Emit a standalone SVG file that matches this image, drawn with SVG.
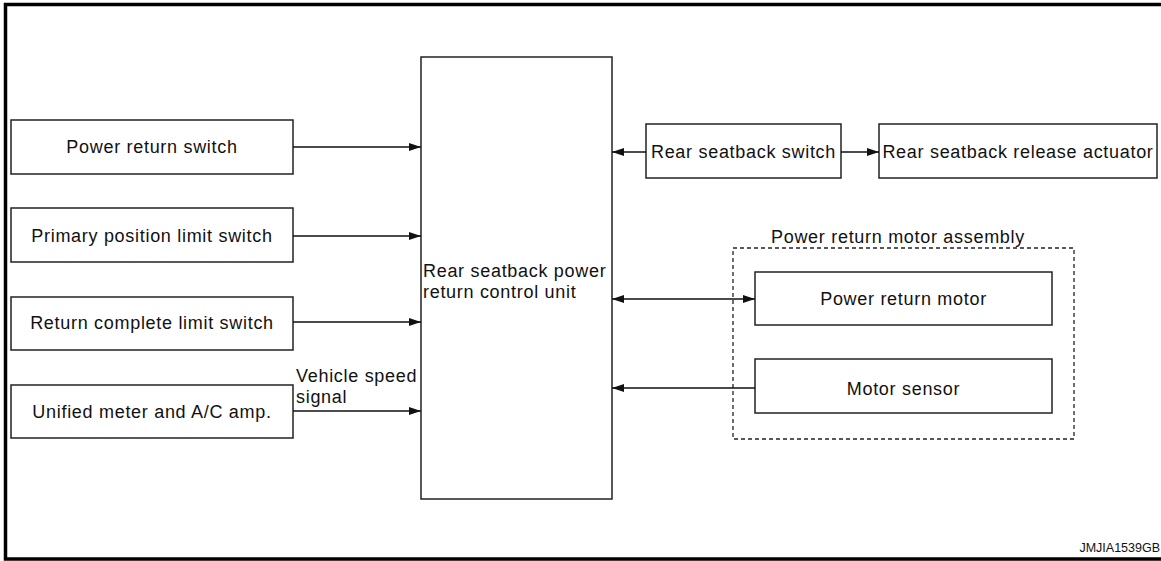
<svg xmlns="http://www.w3.org/2000/svg" width="1161" height="561" viewBox="0 0 1161 561">
<style>
  .box { fill: #fff; stroke: #222; stroke-width: 1.5; }
  .t { font-family: "Liberation Sans", Arial, sans-serif; font-size: 18px; letter-spacing: 0.7px; fill: #111; }
  .c { text-anchor: middle; }
  .ln { stroke: #111; stroke-width: 1.5; fill: none; }
  .frame { stroke: #000; stroke-width: 3.5; fill: none; }
</style>
<defs>
  <marker id="ah" viewBox="0 0 12 8" refX="12" refY="4" markerWidth="12" markerHeight="8" markerUnits="userSpaceOnUse" orient="auto-start-reverse">
    <path d="M0,0 L12,4 L0,8 z" fill="#111"/>
  </marker>
</defs>
<rect width="1161" height="561" fill="#fff"/>
<g id="frame">
  <polyline class="frame" points="1161,4.5 5.5,4.5 5.5,559 1161,559"/>
</g>
<g id="n-power-return-switch">
  <rect class="box" x="11" y="120" width="282" height="54"/>
  <text class="t c" x="152" y="153">Power return switch</text>
</g>
<g id="n-primary-limit">
  <rect class="box" x="11" y="208" width="282" height="54"/>
  <text class="t c" x="152" y="242">Primary position limit switch</text>
</g>
<g id="n-return-complete">
  <rect class="box" x="11" y="297" width="282" height="53"/>
  <text class="t c" x="152" y="329">Return complete limit switch</text>
</g>
<g id="n-unified-meter">
  <rect class="box" x="11" y="385" width="282" height="53"/>
  <text class="t c" x="152" y="418">Unified meter and A/C amp.</text>
</g>
<g id="n-control-unit">
  <rect class="box" x="421" y="57" width="191" height="442"/>
  <text class="t" x="423" y="277">Rear seatback power</text>
  <text class="t" x="423" y="298">return control unit</text>
</g>
<g id="n-rear-seatback-switch">
  <rect class="box" x="646" y="124" width="195" height="54"/>
  <text class="t c" x="743.5" y="158">Rear seatback switch</text>
</g>
<g id="n-release-actuator">
  <rect class="box" x="879" y="124" width="278" height="54"/>
  <text class="t c" x="1018" y="158">Rear seatback release actuator</text>
</g>
<g id="n-motor-assembly">
  <rect x="733" y="248" width="341" height="191" fill="none" stroke="#222" stroke-width="1.3" stroke-dasharray="4,3"/>
  <text class="t c" x="898" y="243">Power return motor assembly</text>
</g>
<g id="n-power-return-motor">
  <rect class="box" x="755" y="272" width="297" height="53"/>
  <text class="t c" x="903.5" y="305">Power return motor</text>
</g>
<g id="n-motor-sensor">
  <rect class="box" x="755" y="359" width="297" height="54"/>
  <text class="t c" x="903.5" y="395">Motor sensor</text>
</g>
<g id="connectors">
  <line class="ln" x1="293" y1="147" x2="421" y2="147" marker-end="url(#ah)"/>
  <line class="ln" x1="293" y1="236" x2="421" y2="236" marker-end="url(#ah)"/>
  <line class="ln" x1="293" y1="322" x2="421" y2="322" marker-end="url(#ah)"/>
  <line class="ln" x1="293" y1="411" x2="421" y2="411" marker-end="url(#ah)"/>
  <line class="ln" x1="646" y1="152" x2="612" y2="152" marker-end="url(#ah)"/>
  <line class="ln" x1="841" y1="152" x2="879" y2="152" marker-end="url(#ah)"/>
  <line class="ln" x1="612" y1="299" x2="755" y2="299" marker-start="url(#ah)" marker-end="url(#ah)"/>
  <line class="ln" x1="755" y1="388" x2="612" y2="388" marker-end="url(#ah)"/>
  <text class="t" x="296" y="382">Vehicle speed</text>
  <text class="t" x="296" y="403">signal</text>
</g>
<text x="1160" y="552" text-anchor="end" font-family="Liberation Sans, Arial, sans-serif" font-size="12.5" fill="#111">JMJIA1539GB</text>
</svg>
